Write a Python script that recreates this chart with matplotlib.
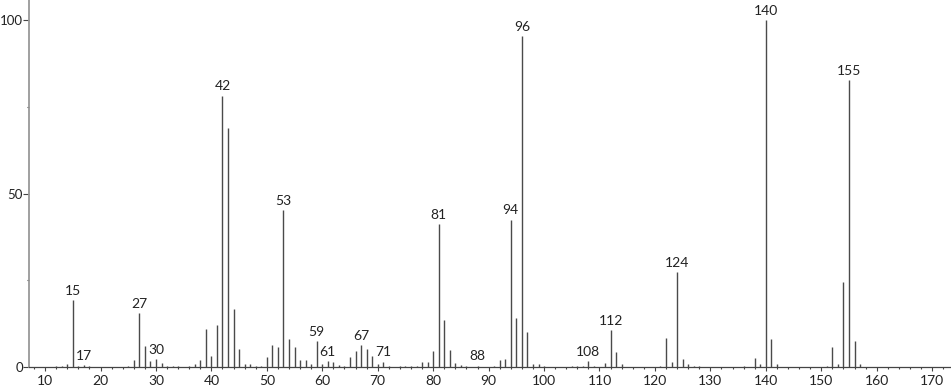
import matplotlib
matplotlib.use("Agg")
import matplotlib.pyplot as plt
from matplotlib.ticker import MultipleLocator

mz = [12, 13, 14, 15, 16, 17, 18, 25, 26, 27, 28, 29, 30, 31, 32, 33, 34, 36, 37, 38,
      39, 40, 41, 42, 43, 44, 45, 46, 47, 48, 49, 50, 51, 52, 53, 54, 55, 56, 57, 58,
      59, 60, 61, 62, 63, 64, 65, 66, 67, 68, 69, 70, 71, 72, 74, 75, 76, 77, 78, 79,
      80, 81, 82, 83, 84, 85, 86, 88, 91, 92, 93, 94, 95, 96, 97, 98, 99, 100,
      105, 106, 107, 108, 109, 111, 112, 113, 114, 121, 122, 123, 124, 125, 126, 127, 128,
      136, 138, 139, 140, 141, 142, 151, 152, 153, 154, 155, 156, 157]
intensity = [0.3, 0.4, 0.8, 19.3, 0.3, 0.5, 0.3, 0.4, 2.0, 15.5, 6.0, 1.7, 2.2, 1.1, 0.4, 0.3, 0.4, 0.3, 0.8, 2.0,
             11.0, 3.2, 12.1, 78.2, 68.9, 16.8, 5.2, 0.8, 0.8, 0.3, 0.4, 2.9, 6.3, 5.7, 45.2, 8.0, 5.7, 2.0, 2.0, 1.0,
             7.4, 0.8, 1.7, 1.5, 0.6, 0.3, 2.9, 4.7, 6.2, 5.2, 3.2, 1.0, 1.5, 0.3, 0.3, 0.3, 0.3, 0.3, 1.5, 1.5,
             4.6, 41.2, 13.5, 5.0, 1.1, 0.6, 0.3, 0.3, 0.3, 2.0, 2.2, 42.4, 14.0, 95.4, 10.0, 0.9, 0.9, 0.3,
             0.3, 0.3, 0.3, 1.7, 0.3, 1.1, 10.6, 4.2, 0.8, 0.3, 8.5, 1.5, 27.3, 2.2, 0.8, 0.3, 0.3,
             0.3, 2.6, 0.8, 100.0, 8.0, 0.8, 0.3, 5.7, 0.8, 24.4, 82.6, 7.4, 0.8]
labeled = [15, 17, 27, 30, 42, 53, 59, 61, 67, 71, 81, 88, 94, 96, 108, 112, 124, 140, 155]

plt.rcParams['font.family'] = ['Lato', 'DejaVu Sans']

fig = plt.figure(figsize=(9.51, 3.89), dpi=100)
ax = fig.add_axes([29 / 951, 1 - 367 / 389, 1 - 29 / 951, 367 / 389])

ax.vlines(mz, 0, intensity, colors='#4a4a4a', linewidth=1.0)

lookup = dict(zip(mz, intensity))
for m in labeled:
    ax.annotate(str(m), (m, lookup[m]), xytext=(0, 2.5), textcoords='offset points',
                ha='center', va='bottom', fontsize=10, color='#222222')

ax.set_xlim(7.1, 173.4)
ax.set_ylim(0, 105.8)
ax.xaxis.set_major_locator(MultipleLocator(10))
ax.xaxis.set_minor_locator(MultipleLocator(2))
ax.yaxis.set_major_locator(MultipleLocator(50))
ax.yaxis.set_minor_locator(MultipleLocator(25))

for s in ['top', 'right']:
    ax.spines[s].set_visible(False)
ax.spines['left'].set_color('#999999')
ax.spines['left'].set_linewidth(1.3)
ax.spines['bottom'].set_color('#444444')
ax.spines['bottom'].set_linewidth(0.9)

ax.tick_params(axis='x', which='major', length=3, width=0.8, color='#444444', pad=3,
               labelsize=10, labelcolor='#222222')
ax.tick_params(axis='x', which='minor', length=1.5, width=0.8, color='#444444')
ax.tick_params(axis='y', which='major', length=4, width=0.8, color='#444444', pad=0.5,
               labelsize=9.5, labelcolor='#222222')
ax.tick_params(axis='y', which='minor', length=1.5, width=0.8, color='#444444')

fig.savefig('out.png', dpi=100)
